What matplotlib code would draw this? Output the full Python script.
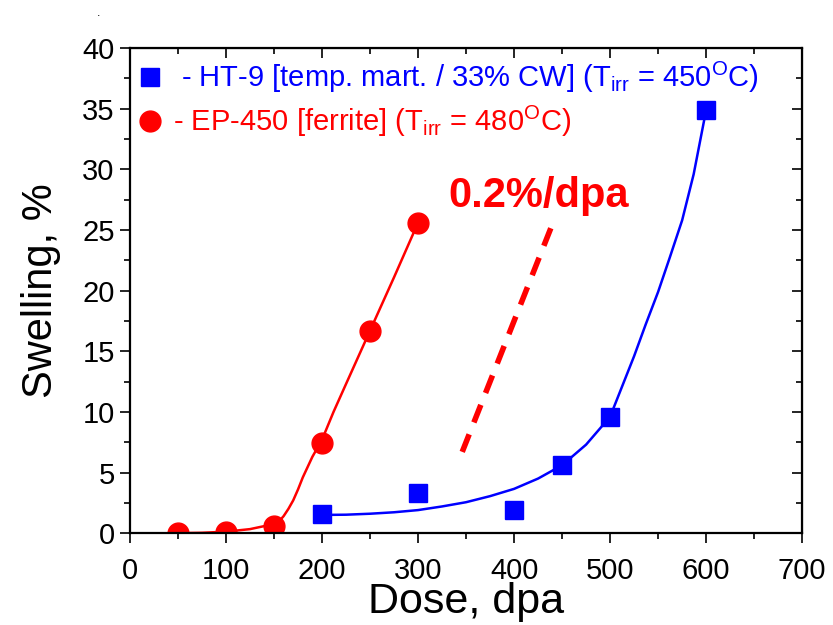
import numpy as np
import matplotlib
matplotlib.use("Agg")
import matplotlib.pyplot as plt
from matplotlib.ticker import MultipleLocator

plt.rcParams['font.family'] = ['Liberation Sans', 'DejaVu Sans']
plt.rcParams['mathtext.fontset'] = 'custom'
plt.rcParams['mathtext.rm'] = 'Liberation Sans'
plt.rcParams['mathtext.it'] = 'Liberation Sans'

# measured points
ht9_dose = [200, 300, 400, 450, 500, 600]
ht9_swell = [1.6, 3.3, 1.9, 5.6, 9.6, 34.9]
ep450_dose = [50, 100, 150, 200, 250, 300]
ep450_swell = [0.05, 0.1, 0.6, 7.4, 16.7, 25.6]

# guide curves
ht9_fit_dose = [200, 225, 250, 275, 300, 325, 350, 375, 400, 425, 450, 475,
                500, 512, 525, 537, 550, 562, 575, 587, 600]
ht9_fit_swell = [1.5, 1.52, 1.6, 1.72, 1.9, 2.2, 2.55, 3.05, 3.65, 4.5, 5.6, 7.3,
                 9.6, 12.0, 14.6, 17.2, 19.9, 22.7, 25.8, 29.6, 34.9]
ep450_fit_dose = [50, 75, 100, 125, 150, 155, 160, 165, 170, 175, 180, 190,
                  200, 212, 225, 250, 275, 300]
ep450_fit_swell = [0.0, 0.03, 0.12, 0.33, 0.75, 0.95, 1.4, 2.0, 2.7, 3.6, 4.6, 6.3,
                   7.7, 10.0, 12.3, 16.7, 21.1, 25.6]

# 0.2 %/dpa slope guide
slope_dose = [346, 443]
slope_swell = [6.7, 26.1]

fig = plt.figure(figsize=(8.33, 6.25), dpi=100)
ax = fig.add_axes([0.156, 0.147, 0.807, 0.776])

ax.plot(ep450_fit_dose, ep450_fit_swell, color='red', lw=1.8)
ax.plot(ht9_fit_dose, ht9_fit_swell, color='blue', lw=1.8)
ax.plot(ht9_dose, ht9_swell, 's', color='blue', ms=13, mec='blue',
        label=r' - HT-9 [temp. mart. / 33% CW] (T$_{\mathrm{irr}}$ = 450$^{\mathrm{O}}$C)')
ax.plot(ep450_dose, ep450_swell, 'o', color='red', ms=15, mec='red',
        label=r'- EP-450 [ferrite] (T$_{\mathrm{irr}}$ = 480$^{\mathrm{O}}$C)')
ax.plot(slope_dose, slope_swell, color='red', lw=4, dashes=(3.4, 2.3))

ax.text(332, 27.8, '0.2%/dpa', color='red', fontsize=30, fontweight='bold',
        ha='left', va='center')

ax.set_xlim(0, 700)
ax.set_ylim(0, 40)
ax.xaxis.set_major_locator(MultipleLocator(100))
ax.xaxis.set_minor_locator(MultipleLocator(50))
ax.yaxis.set_major_locator(MultipleLocator(5))
ax.yaxis.set_minor_locator(MultipleLocator(2.5))
ax.tick_params(which='both', direction='out', top=False, right=False,
               labelsize=21, width=1.2)
ax.tick_params(axis='x', pad=10)
ax.tick_params(axis='y', pad=4)
ax.tick_params(which='major', length=7)
ax.tick_params(which='minor', length=4)
for s in ax.spines.values():
    s.set_linewidth(1.6)

# inward ticks on top and right
ax_t = ax.secondary_xaxis('top')
ax_t.xaxis.set_major_locator(MultipleLocator(100))
ax_t.xaxis.set_minor_locator(MultipleLocator(50))
ax_t.tick_params(which='both', direction='in', labeltop=False, width=1.2)
ax_t.tick_params(which='major', length=7)
ax_t.tick_params(which='minor', length=4)
ax_r = ax.secondary_yaxis('right')
ax_r.yaxis.set_major_locator(MultipleLocator(5))
ax_r.yaxis.set_minor_locator(MultipleLocator(2.5))
ax_r.tick_params(which='both', direction='in', labelright=False, width=1.2)
ax_r.tick_params(which='major', length=7)
ax_r.tick_params(which='minor', length=4)

ax.set_xlabel('Dose, dpa', fontsize=31, labelpad=-2)
ax.set_ylabel('Swelling, %', fontsize=30, labelpad=15)

leg = ax.legend(loc='upper left', bbox_to_anchor=(-0.005, 1.0), frameon=False,
                fontsize=21, handlelength=0.8, handletextpad=0.4,
                labelspacing=0.3, borderaxespad=0.0)
for txt, c in zip(leg.get_texts(), ['blue', 'red']):
    txt.set_color(c)

fig.text(0.116, 0.975, '.', fontsize=9)

fig.savefig('out.png', dpi=100)
